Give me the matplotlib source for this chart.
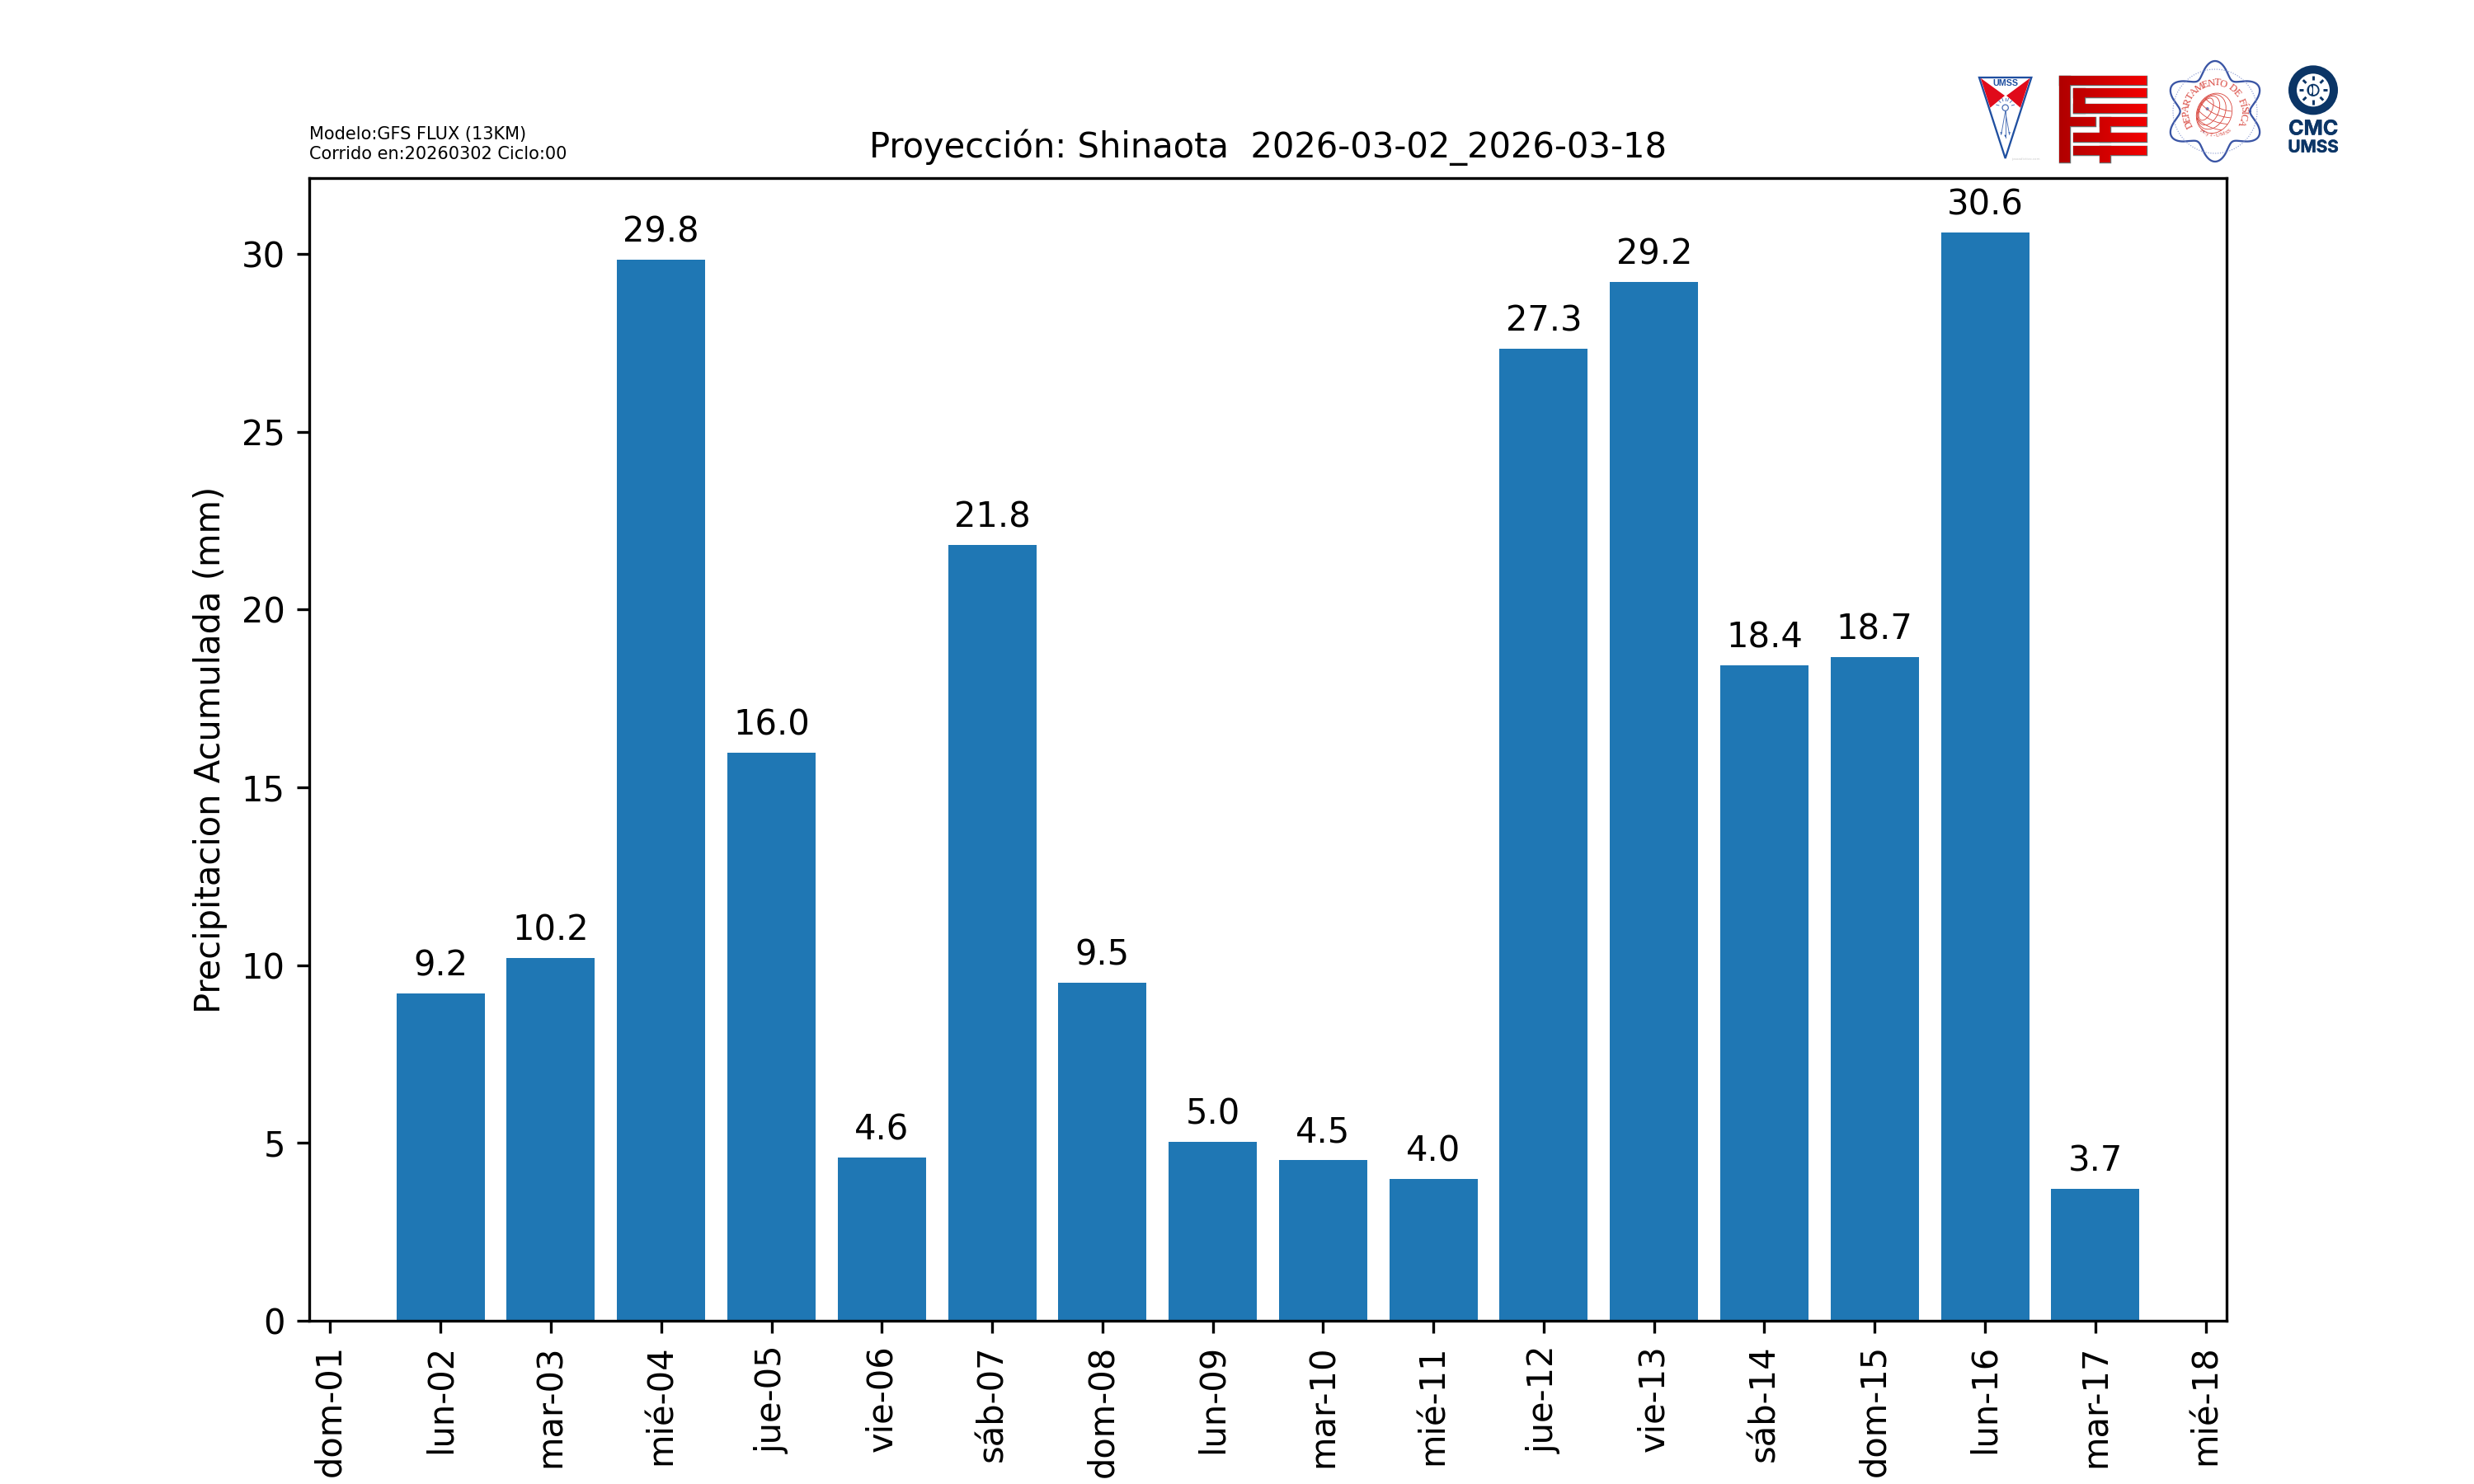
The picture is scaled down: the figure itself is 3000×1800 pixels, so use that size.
import numpy as np
import matplotlib
matplotlib.use('Agg')
import matplotlib.pyplot as plt
import matplotlib.patheffects as pe
from matplotlib.colors import LinearSegmentedColormap
from matplotlib.font_manager import FontProperties
from matplotlib.patches import Polygon, Rectangle, Circle, Ellipse, PathPatch, Wedge
from matplotlib.path import Path
from matplotlib.textpath import TextPath
from datetime import datetime

# ---- data ----
dates = ['2026-03-%02d' % d for d in range(2, 18)]
precip = [9.2, 10.2, 29.84, 15.98, 4.6, 21.82, 9.5, 5.02, 4.52, 3.98, 27.32, 29.2, 18.42, 18.66, 30.6, 3.7]
tick_dates = ['2026-03-%02d' % d for d in range(1, 19)]
tick_labels = ['dom-01', 'lun-02', 'mar-03', 'mié-04', 'jue-05', 'vie-06', 'sáb-07', 'dom-08', 'lun-09',
               'mar-10', 'mié-11', 'jue-12', 'vie-13', 'sáb-14', 'dom-15', 'lun-16', 'mar-17', 'mié-18']
title = 'Proyección: Shinaota  2026-03-02_2026-03-18'
ylabel = 'Precipitacion Acumulada (mm)'
model_note = 'Modelo:GFS FLUX (13KM)\nCorrido en:20260302 Ciclo:00'

x = [datetime.strptime(d, '%Y-%m-%d') for d in dates]
xt = [datetime.strptime(d, '%Y-%m-%d') for d in tick_dates]

fig, ax = plt.subplots(figsize=(10, 6), dpi=300)
bars = ax.bar(x, precip, width=0.8, color='#1f77b4')
for xi, v in zip(x, precip):
    ax.annotate(f'{v:.1f}', (xi, v), xytext=(0, 3), textcoords='offset points', ha='center', va='bottom')
ax.set_xticks(xt)
ax.set_xticklabels(tick_labels, rotation=90)
ax.set_ylabel(ylabel)
ax.set_title(title, fontsize=10)
ax.text(0, 1.014, model_note, transform=ax.transAxes, fontsize=5, ha='left', va='bottom')

# ---- logos (drawn in a small overlay whose units are px*3 of the logo strip) ----
lg = fig.add_axes([2360 / 3000, 1 - 220 / 1800, 520 / 3000, 160 / 1800])
lg.set_xlim(0, 1560)
lg.set_ylim(480, 0)
lg.axis('off')
lg.patch.set_alpha(0)

BLUE = '#1f4fa0'
RED = '#e00a1a'
NAVY = '#0b3566'

# UMSS shield
lg.add_patch(Polygon([(120, 102), (310, 102), (215, 396)], closed=True, fc='white', ec=BLUE, lw=0.55))
lg.add_patch(Polygon([(125, 104), (213, 168), (160, 212)], closed=True, fc=RED, ec='none'))
lg.add_patch(Polygon([(305, 104), (219, 168), (270, 212)], closed=True, fc=RED, ec='none'))
lg.text(215, 122, 'UMSS', color=BLUE, fontsize=2.6, fontweight='bold', ha='center', va='center', family='Liberation Sans')
FIG = '#4a6fb5'
lg.add_patch(Circle((215, 212), 11, fc='none', ec=FIG, lw=0.3))
for tip in [(200, 310), (230, 310), (215, 320)]:
    lg.plot([215, tip[0]], [226, tip[1]], color=FIG, lw=0.22)
    lg.add_patch(Polygon([(tip[0] - 4, tip[1] - 9), (tip[0] + 4, tip[1] - 9), tip], closed=True, fc=BLUE, ec='none'))
for a in np.radians([-165, -135, -110, -90, -70, -45, -15]):
    lg.plot([215 + 24 * np.cos(a), 215 + 34 * np.cos(a)], [210 + 24 * np.sin(a), 210 + 34 * np.sin(a)], color=FIG, lw=0.22)
lg.text(291, 400, 'ipsoadictivo.com', color='#c8c8c8', fontsize=0.9, ha='center', va='center')

# FCyT mark
rects = [(410, 95, 40, 315), (410, 95, 318, 33),
         (463, 140, 265, 34), (463, 140, 40, 92), (463, 198, 265, 34),
         (450, 245, 92, 35), (558, 245, 170, 35), (558, 245, 40, 90),
         (463, 302, 265, 33), (463, 350, 265, 35), (558, 350, 40, 60)]
verts, codes = [], []
for rx, ry, rw, rh in rects:
    lg.add_patch(Rectangle((rx, ry), rw, rh, fc='none', ec='#6a6a6a', lw=0.35, zorder=1))
    verts += [(rx, ry), (rx + rw, ry), (rx + rw, ry + rh), (rx, ry + rh), (rx, ry)]
    codes += [Path.MOVETO, Path.LINETO, Path.LINETO, Path.LINETO, Path.CLOSEPOLY]
cm = LinearSegmentedColormap.from_list('fcyt', ['#b00000', '#f20000'])
im = lg.imshow(np.linspace(0, 1, 64).reshape(1, -1), cmap=cm, extent=(410, 728, 410, 95), aspect='auto', zorder=2)
clip = PathPatch(Path(verts, codes), transform=lg.transData, fc='none', ec='none')
lg.add_patch(clip)
im.set_clip_path(clip)
lg.set_xlim(0, 1560)
lg.set_ylim(480, 0)

# Departamento de Fisica seal
cx, cy = 978, 225
th = np.linspace(0, 2 * np.pi, 720)
r = 155 + 28 * np.cos(6 * (th + np.pi / 2))
lg.plot(cx + r * np.cos(th), cy + r * np.sin(th), color='#3a55a5', lw=0.55)
lg.plot(cx + 153 * np.cos(th), cy + 153 * np.sin(th), color='#8e9dd2', lw=0.28, ls=(0, (1, 1.5)))
SEAL = '#d8423a'
pivot = np.array([930.0, 210.0])
ctr = np.array([975.0, 232.0])
for t in [1.0, 0.78, 0.56, 0.34]:
    c = pivot + t * (ctr - pivot)
    lg.add_patch(Ellipse(c, 2 * t * np.hypot(*(ctr - pivot)) * 1.25, 150 * t ** 0.5, angle=26, fc='none', ec=SEAL, lw=0.2))
a = np.radians(26)
for f in [0.55, 0.2, -0.15, -0.5]:
    t = np.linspace(-1, 1, 50) * np.sqrt(1 - f ** 2)
    px = 60 * t
    py = 73 * f + 12 * (1 - t ** 2)
    lg.plot(975 + px * np.cos(a) - py * np.sin(a), 232 + px * np.sin(a) + py * np.cos(a), color=SEAL, lw=0.2)
lg.add_patch(Circle((950, 216), 6, fc='#6f86c5', ec='none'))
lg.add_patch(Circle((937, 300), 2.5, fc='#6f86c5', ec='none'))

def arc_text(s, radius, a0, a1, size, flip=False):
    fp = FontProperties(family='Liberation Serif')
    w = np.array([TextPath((0, 0), ch if ch != ' ' else 'n', size=1, prop=fp).get_extents().width + 0.12 for ch in s])
    centres = np.cumsum(w) - w / 2
    angs = a0 + (a1 - a0) * (centres - centres[0]) / (centres[-1] - centres[0])
    for ch, ang in zip(s, angs):
        rad = np.radians(ang)
        lg.text(cx + radius * np.sin(rad), cy - radius * np.cos(rad), ch, color=SEAL, fontsize=size,
                family='Liberation Serif', ha='center', va='center',
                rotation=(-ang if not flip else 180 - ang), rotation_mode='anchor')

arc_text('DEPARTAMENTO DE FÍSICA', 103, -117, 113, 3.0)
arc_text('FCyT-UMSS', 88, 216, 144, 1.7, flip=True)

# CMC mark
cc = (1335, 148)
lg.add_patch(Circle(cc, 75, fc='none', ec=NAVY, lw=30 / 3 * 72 / 300))
for ang in np.arange(0, 360, 45):
    rad = np.radians(ang)
    lg.plot([cc[0] + 36 * np.cos(rad), cc[0] + 52 * np.cos(rad)], [cc[1] + 36 * np.sin(rad), cc[1] + 52 * np.sin(rad)],
            color=NAVY, lw=0.7, solid_capstyle='butt')
lg.add_patch(Circle(cc, 20, fc='white', ec=NAVY, lw=0.45))
lg.add_patch(Wedge(cc, 20, 90, 270, fc=NAVY, ec='none'))
lg.add_patch(Ellipse((cc[0] - 9, cc[1]), 12, 30, fc='white', ec='none'))
stroke = [pe.withStroke(linewidth=0.1, foreground=NAVY)]
lg.text(1335, 291, 'CMC', color=NAVY, fontsize=6.0, fontweight='bold', ha='center', va='center', family='Inter', path_effects=stroke)
lg.text(1335, 356, 'UMSS', color=NAVY, fontsize=4.95, fontweight='bold', ha='center', va='center', family='Inter', path_effects=stroke)

fig.savefig('out.png', dpi=300)
